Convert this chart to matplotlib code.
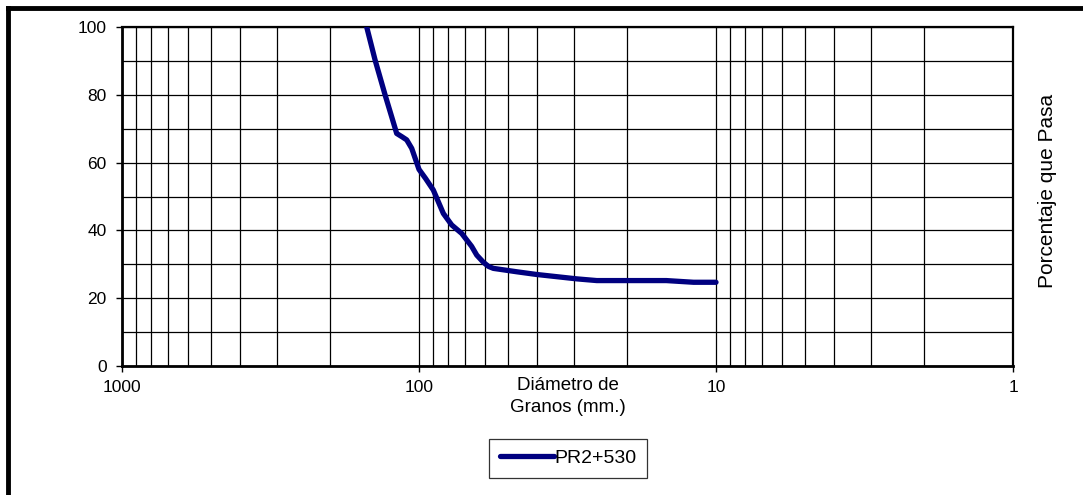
import matplotlib
matplotlib.use("Agg")
import matplotlib.pyplot as plt
from matplotlib.lines import Line2D
from matplotlib.ticker import FixedLocator, FixedFormatter, NullFormatter

plt.rcParams['font.family'] = ['Liberation Sans', 'DejaVu Sans']

# Data
diam_mm = [150, 140.6, 130, 122.7, 118.9, 114, 110, 105.8, 100, 95, 89.5, 82.8, 77.6, 71.8,
           66.5, 63.9, 60.7, 58.4, 56.2, 46.9, 40.2, 29.4, 25.2, 14.7, 11.9, 10]
pct_pasa = [100, 90.3, 79.9, 72.6, 68.6, 67.6, 66.7, 64.2, 58.0, 55.3, 51.9, 45.0, 41.6, 39.1,
            35.3, 32.7, 30.6, 29.4, 28.8, 27.8, 27.0, 25.7, 25.2, 25.2, 24.7, 24.7]
series_name = "PR2+530"
x_ticks = [1000, 100, 10, 1]
x_tick_labels = ["1000", "100", "10", "1"]
y_ticks = [0, 20, 40, 60, 80, 100]

W, H = 1083, 495
fig = plt.figure(figsize=(W / 100, H / 100), dpi=100)
left, right, top, bottom = 122, 1013, 27, 366
ax = fig.add_axes([left / W, 1 - bottom / H, (right - left) / W, (bottom - top) / H])

ax.set_xscale('log')
ax.set_xlim(1000, 1)
ax.set_ylim(0, 100)

ax.plot(diam_mm, pct_pasa, color='#000080', lw=3.8, solid_capstyle='round',
        solid_joinstyle='round', label=series_name, zorder=3)

# ticks
ax.xaxis.set_major_locator(FixedLocator(x_ticks))
ax.xaxis.set_major_formatter(FixedFormatter(x_tick_labels))
minors = [m * 10 ** e for e in range(0, 3) for m in range(2, 10)]
ax.xaxis.set_minor_locator(FixedLocator(minors))
ax.xaxis.set_minor_formatter(NullFormatter())
ax.set_yticks(y_ticks)
ax.set_yticks(range(10, 100, 20), minor=True)

ax.tick_params(axis='both', which='major', direction='out', length=4, width=1,
               labelsize=12.5, colors='black')
ax.tick_params(axis='x', which='major', pad=6)
ax.tick_params(axis='y', which='major', pad=7)
ax.tick_params(which='minor', length=0)

ax.grid(True, which='both', color='black', lw=0.9)
ax.set_axisbelow(True)
for s in ax.spines.values():
    s.set_color('black')
    s.set_linewidth(1.6)
ax.spines['left'].set_linewidth(2)
ax.spines['bottom'].set_linewidth(2)

# labels
ax.set_xlabel("Diámetro de\nGranos (mm.)", fontsize=13.5, linespacing=1.45)
ax.xaxis.set_label_coords(0.5, -0.09)
ax.xaxis.label.set_va('center')
ax.yaxis.set_label_position('right')
ax.set_ylabel("Porcentaje que Pasa", fontsize=15, rotation=90)
ax.yaxis.set_label_coords(1.039, 0.516)
ax.yaxis.label.set_va('center')

leg = ax.legend(loc='center', bbox_to_anchor=(568 / W, 1 - 458 / H),
                bbox_transform=fig.transFigure, fontsize=14, frameon=True,
                fancybox=False, shadow=False, handlelength=2.8, handletextpad=0.0,
                borderpad=0.55, borderaxespad=0)
leg.get_frame().set_edgecolor('black')
leg.get_frame().set_linewidth(0.9)

# outer border (left and top visible)
fig.add_artist(Line2D([8 / W, 8 / W], [0, 1 - 8 / H], transform=fig.transFigure,
                      color='black', lw=3.5, solid_capstyle='projecting'))
fig.add_artist(Line2D([8 / W, 1], [1 - 8 / H, 1 - 8 / H], transform=fig.transFigure,
                      color='black', lw=3.5, solid_capstyle='projecting'))

fig.savefig("out.png", dpi=100)
